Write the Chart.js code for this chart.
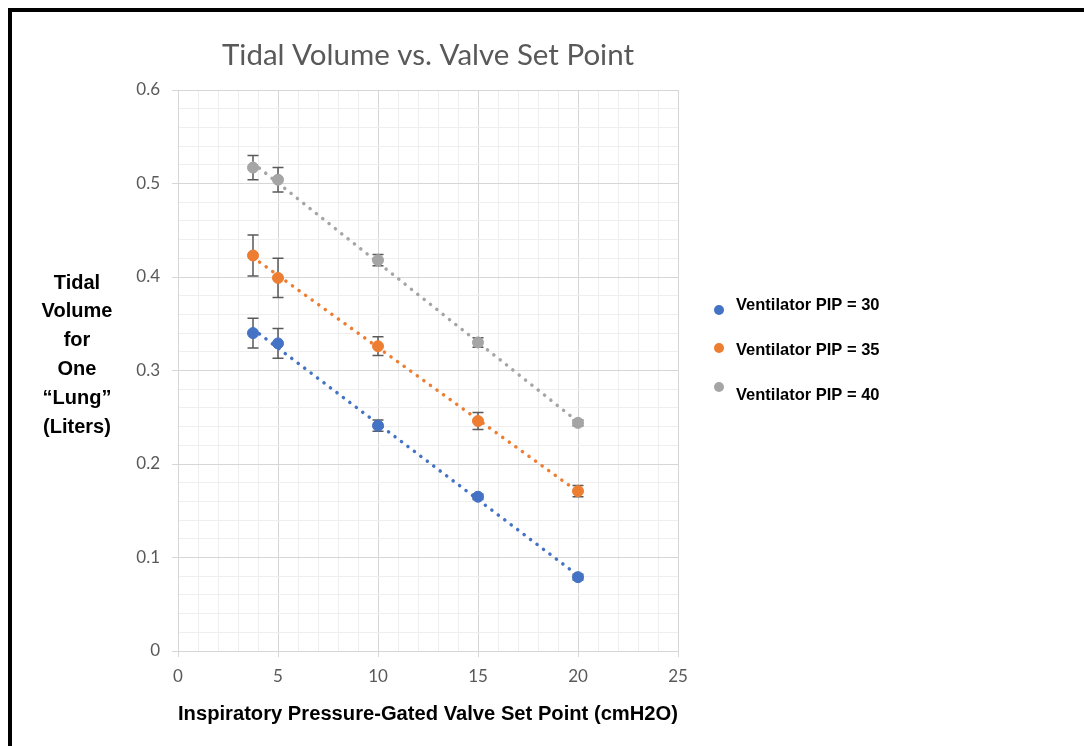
<!DOCTYPE html>
<html><head><meta charset="utf-8">
<script src="https://cdn.jsdelivr.net/npm/chart.js@4"></script>
<style>html,body{margin:0;padding:0;background:#fff;}canvas{display:block;}</style>
</head><body>
<canvas id="c" width="1084" height="746"></canvas>
<script>
// ---- data ----
const valveSetPoints = [3.75, 5, 10, 15, 20];
const seriesLabels = ['Ventilator PIP = 30', 'Ventilator PIP = 35', 'Ventilator PIP = 40'];
const pip30 = [0.340, 0.329, 0.241, 0.165, 0.079];
const pip35 = [0.423, 0.399, 0.326, 0.246, 0.171];
const pip40 = [0.517, 0.504, 0.418, 0.330, 0.244];
const err30 = [0.016, 0.016, 0.006, 0.003, 0.003];
const err35 = [0.022, 0.021, 0.010, 0.009, 0.006];
const err40 = [0.013, 0.013, 0.006, 0.005, 0.003];
const xTickLabels = ['0', '5', '10', '15', '20', '25'];
const yTickLabels = ['0', '0.1', '0.2', '0.3', '0.4', '0.5', '0.6'];
const chartTitle = 'Tidal Volume vs. Valve Set Point';
const xAxisTitle = 'Inspiratory Pressure-Gated Valve Set Point (cmH2O)';
const yAxisTitleLines = ['Tidal', 'Volume', 'for', 'One', '\u201CLung\u201D', '(Liters)'];

const colors = ['#4472C4', '#ED7D31', '#A5A5A5'];
const seriesValues = [pip30, pip35, pip40];
const seriesErrors = [err30, err35, err40];

function toPoints(xs, ys) { return xs.map((x, i) => ({ x: x, y: ys[i] })); }

// Excel-style linear trendline (least squares) from the series values
function trend(xs, ys) {
  const n = xs.length;
  const mx = xs.reduce((a, b) => a + b, 0) / n;
  const my = ys.reduce((a, b) => a + b, 0) / n;
  let sxy = 0, sxx = 0;
  for (let i = 0; i < n; i++) { sxy += (xs[i] - mx) * (ys[i] - my); sxx += (xs[i] - mx) * (xs[i] - mx); }
  const b = sxy / sxx, a = my - b * mx;
  const x0 = Math.min(...xs), x1 = Math.max(...xs);
  return [{ x: x0, y: a + b * x0 }, { x: x1, y: a + b * x1 }];
}

const datasets = [];
seriesValues.forEach((vals, i) => {
  datasets.push({
    label: seriesLabels[i],
    data: toPoints(valveSetPoints, vals),
    backgroundColor: colors[i],
    borderColor: colors[i],
    pointRadius: 5.5,
    pointBorderWidth: 1,
    pointHoverRadius: 5.5,
    showLine: false,
    order: 0,
    errors: seriesErrors[i]
  });
});
seriesValues.forEach((vals, i) => {
  datasets.push({
    label: seriesLabels[i] + ' trend',
    data: trend(valveSetPoints, vals),
    borderColor: colors[i],
    backgroundColor: colors[i],
    showLine: true,
    pointRadius: 0,
    borderWidth: 3.5,
    borderDash: [0.1, 8],
    borderCapStyle: 'round',
    order: 1,
    isTrend: true
  });
});

const isMajorX = v => Math.abs(v / 5 - Math.round(v / 5)) < 1e-6;
const isMajorY = v => Math.abs(v * 10 - Math.round(v * 10)) < 1e-6;

const bgPlugin = {
  id: 'bg',
  beforeDraw(chart) {
    const c = chart.ctx;
    c.save(); c.fillStyle = '#fff'; c.fillRect(0, 0, chart.width, chart.height); c.restore();
  }
};

const errorBarPlugin = {
  id: 'errorBars',
  beforeDatasetsDraw(chart) {
    const c = chart.ctx;
    const xs = chart.scales.x, ys = chart.scales.y;
    c.save();
    c.strokeStyle = '#5a5a5a';
    c.lineWidth = 1.5;
    chart.data.datasets.forEach(ds => {
      if (!ds.errors) return;
      ds.data.forEach((p, j) => {
        const e = ds.errors[j];
        const px = xs.getPixelForValue(p.x);
        const top = ys.getPixelForValue(p.y + e);
        const bot = ys.getPixelForValue(p.y - e);
        c.beginPath();
        c.moveTo(px, top); c.lineTo(px, bot);
        c.moveTo(px - 5.5, top); c.lineTo(px + 5.5, top);
        c.moveTo(px - 5.5, bot); c.lineTo(px + 5.5, bot);
        c.stroke();
      });
    });
    c.restore();
  }
};

const decorPlugin = {
  id: 'decor',
  afterDraw(chart) {
    const c = chart.ctx;
    c.save();
    // y-axis title (horizontal, stacked lines)
    c.fillStyle = '#000';
    c.font = 'bold 20px "Liberation Sans", Arial, sans-serif';
    c.textAlign = 'center';
    c.textBaseline = 'middle';
    yAxisTitleLines.forEach((t, i) => c.fillText(t, 77, 283 + i * 28.8));
    // legend
    const dotY = [310, 348, 387];
    const textY = [305, 350, 395];
    c.font = 'bold 16.5px "Liberation Sans", Arial, sans-serif';
    c.textAlign = 'left';
    seriesLabels.forEach((lab, i) => {
      c.fillStyle = colors[i];
      c.beginPath(); c.arc(719, dotY[i], 5, 0, Math.PI * 2); c.fill();
      c.fillStyle = '#000';
      c.fillText(lab, 736, textY[i]);
    });
    // frame
    c.fillStyle = '#000';
    c.fillRect(8, 8, chart.width - 8, 4);
    c.fillRect(8, 8, 4, chart.height - 8);
    c.restore();
  }
};

new Chart(document.getElementById('c'), {
  type: 'scatter',
  data: { datasets: datasets },
  plugins: [bgPlugin, errorBarPlugin, decorPlugin],
  options: {
    responsive: false,
    animation: false,
    events: [],
    layout: { padding: { left: 130, right: 406, top: 38, bottom: 19 } },
    plugins: {
      legend: { display: false },
      tooltip: { enabled: false },
      title: {
        display: true,
        text: chartTitle,
        fullSize: false,
        color: '#595959',
        font: { family: 'Lato, "Open Sans", sans-serif', size: 29.5, weight: 'normal', lineHeight: 1.2 },
        padding: { top: 0, bottom: 16.6 }
      }
    },
    scales: {
      x: {
        type: 'linear',
        min: 0, max: 25,
        afterFit(s) { s.height = 76; },
        ticks: {
          stepSize: 1, autoSkip: false, maxRotation: 0, maxTicksLimit: 100,
          padding: 9,
          color: '#595959',
          font: { family: 'Lato, sans-serif', size: 17 },
          callback: v => (xTickLabels.includes(String(v)) ? String(v) : '')
        },
        grid: {
          color: c => (c.tick && isMajorX(c.tick.value) ? '#d6d6d6' : '#eeeeee'),
          tickColor: c => (c.tick && isMajorX(c.tick.value) ? '#d6d6d6' : 'rgba(0,0,0,0)'),
          tickLength: 6,
          lineWidth: 1
        },
        border: { color: '#d6d6d6', width: 1 },
        title: {
          display: true,
          text: xAxisTitle,
          color: '#000',
          font: { family: '"Liberation Sans", Arial, sans-serif', size: 20.3, weight: 'bold', lineHeight: 1.2 },
          padding: 0
        }
      },
      y: {
        type: 'linear',
        min: 0, max: 0.6,
        afterFit(s) { s.width = 48; },
        ticks: {
          stepSize: 0.02, autoSkip: false, maxTicksLimit: 100,
          padding: 12,
          color: '#595959',
          font: { family: 'Lato, sans-serif', size: 17 },
          callback: v => {
            const s = v === 0 ? '0' : String(Math.round(v * 100) / 100);
            return yTickLabels.includes(s) ? s : '';
          }
        },
        grid: {
          color: c => (c.tick && isMajorY(c.tick.value) ? '#d6d6d6' : '#eeeeee'),
          tickColor: c => (c.tick && isMajorY(c.tick.value) ? '#d6d6d6' : 'rgba(0,0,0,0)'),
          tickLength: 6,
          lineWidth: 1
        },
        border: { color: '#d6d6d6', width: 1 }
      }
    }
  }
});
</script>
</body></html>
